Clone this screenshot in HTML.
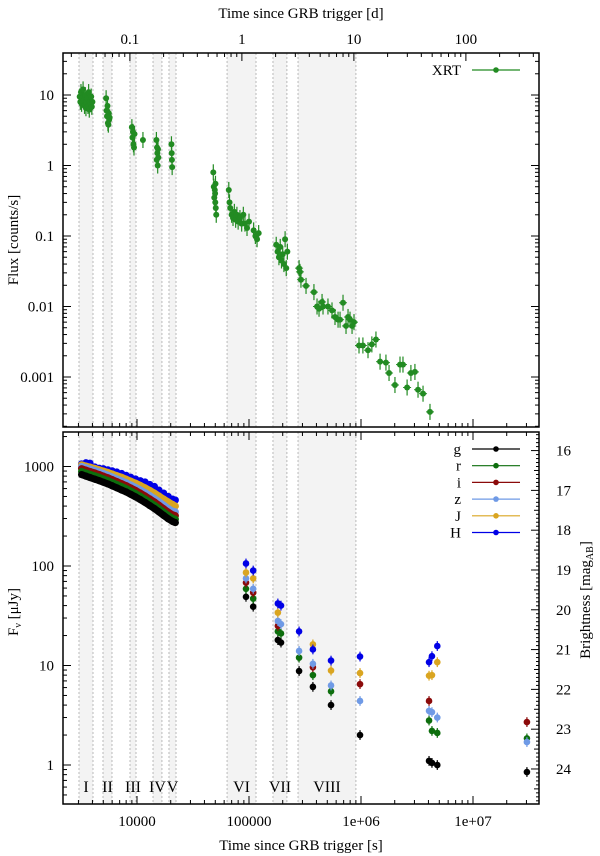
<!DOCTYPE html>
<html><head><meta charset="utf-8"><style>
html,body{margin:0;padding:0;background:#fff;}
svg{display:block;font-family:"Liberation Serif",serif;}
</style></head><body>
<svg id="c" width="600" height="856" viewBox="0 0 600 856"></svg>
<script>
// ---- data ----
const bandStart=[3034,4970,8660,13900,19300,63700,163700,274000];
const bandEnd=[4047,5980,9800,16700,22300,115500,218000,901000];
const bandLabels=["I","II","III","IV","V","VI","VII","VIII"];

const xrtT=[3080,3120,3160,3200,3250,3300,3350,3400,3450,3500,3550,3600,3650,3700,3750,3800,3850,3900,3950,4000,
5300,5350,5400,5450,5500,5550,5600,5650,5700,
9000,9100,9200,9300,9400,9500,11300,
14900,15000,15100,15200,15300,15400,15500,
20300,20400,20500,20600,
48000,48500,49000,49500,50000,50500,51000,49800,50200,
66000,67000,68000,70000,72000,74000,76000,78000,80000,83000,86000,89000,92000,96000,100000,
110000,114000,118000,122000,
175000,180000,185000,190000,195000,200000,205000,210000,215000,220000,
280000,285000,291000,323000,380000,405000,422000,449000,458000,507000,551000,586000,624000,650000,691000,735000,766000,798000,832000,866000,
960000,1040000,1155000,1250000,1360000,1480000,1670000,1780000,2010000,2230000,2370000,2580000,2790000,3030000,3230000,3580000,4130000];
const xrtF=[9.5,8,11,7.5,9,12,8.5,7,10,6.5,8,9,7,11,6.2,8,7.5,9.5,6.8,8,
9,6,5,7,4,3.8,5.5,4.5,4.8,
3.5,2.5,3,2,1.8,2.8,2.3,
2.3,1.2,1.8,1.5,1.0,1.7,1.3,
2.0,1.5,1.2,0.95,
0.8,0.5,0.35,0.45,0.3,0.25,0.2,0.4,0.55,
0.45,0.3,0.25,0.2,0.18,0.22,0.17,0.2,0.16,0.18,0.15,0.2,0.15,0.13,0.16,
0.12,0.1,0.09,0.11,
0.075,0.06,0.05,0.07,0.045,0.055,0.04,0.09,0.035,0.06,
0.035,0.031,0.024,0.0196,0.016,0.010,0.0093,0.0116,0.010,0.010,0.0088,0.0071,0.0065,0.0065,0.0113,0.0053,0.0071,0.0065,0.0053,0.006,
0.0028,0.0028,0.0024,0.0029,0.0034,0.00165,0.0016,0.00114,0.00077,0.0015,0.0015,0.00071,0.00114,0.00118,0.00066,0.00058,0.00032];

const earlyT=[3200,3500,3800,4200,4600,5000,5500,6000,6600,7300,8000,8800,9700,10700,11800,13000,14300,15700,17300,19000,20800,22000];
const gEarly=[830,800,775,745,720,695,668,640,610,580,555,525,495,465,435,405,378,350,322,298,280,273];
const rEarly=[890,860,835,805,778,750,720,690,660,628,600,568,535,502,470,438,408,378,348,322,302,295];
const iEarly=[950,918,890,860,830,800,770,738,705,672,642,608,575,540,506,472,440,408,376,348,327,320];
const zEarly=[1000,970,942,910,880,850,818,785,752,718,686,652,617,582,546,510,476,442,408,378,355,350];
const jEarly=[1040,1010,985,955,925,898,870,840,808,778,745,712,680,645,610,575,540,505,470,440,415,400];
const hEarly=[1060,1090,1080,990,960,950,925,905,880,850,815,780,750,720,700,660,630,580,540,500,470,460];

const lateT=[94000,109000,181000,193000,280000,372000,540000,980000,4050000,4300000,4800000,30300000];
const gLate=[49,39,18,17,8.8,6.1,4.0,2.0,1.1,1.05,1.0,0.85];
const rLate=[59,47,22,21,12,8.0,5.5,null,2.8,2.2,2.1,1.85];
const iLate=[68,54,25,null,null,9.6,null,6.5,4.4,null,null,2.7];
const zLate=[75,59,28,26,14,10.4,6.3,4.4,3.5,3.4,3.0,1.7];
const jLate=[86,75,34,null,null,16.3,8.9,8.4,7.9,8.0,10.8,null];
const hLate=[106,90,42,40,22,14.5,11.2,12.3,10.8,12.4,15.7,null];

const bandNames=["g","r","i","z","J","H"];
const bandColors=["#000000","#0d6e0d","#8b0a0a","#6f9ae6","#daa520","#0000e6"];

// ---- scales ----
const X0=63,X1=539,T0=53,T1=427,B0=432,B1=804;
const xs=t=>137+112*(Math.log10(t)-4);
const yT=f=>95+70.5*(1-Math.log10(f));
const yB=f=>765-99.5*Math.log10(f);
const svg=document.getElementById('c');
const NS="http://www.w3.org/2000/svg";
function mk(tag,a,parent){const e=document.createElementNS(NS,tag);for(const k in a)e.setAttribute(k,a[k]);(parent||svg).appendChild(e);return e;}
function txt(s,x,y,a,parent){const e=mk('text',Object.assign({x:x,y:y,'font-size':15,fill:'#000'},a||{}),parent);e.textContent=s;return e;}

// clip
const defs=mk('defs',{});
const cp1=mk('clipPath',{id:'cT'},defs);mk('rect',{x:X0,y:T0,width:X1-X0,height:T1-T0},cp1);
const cp2=mk('clipPath',{id:'cB'},defs);mk('rect',{x:X0,y:B0,width:X1-X0,height:B1-B0},cp2);

// bands
for(const [p0,p1] of [[T0,T1],[B0,B1]]){
  bandStart.forEach((s,i)=>{
    const r=mk('rect',{x:xs(s),y:p0,width:xs(bandEnd[i])-xs(s),height:p1-p0,fill:'#f3f3f3'});
    
    
    for(const v of [s,bandEnd[i]]){
      const l=mk('line',{x1:xs(v),x2:xs(v),y1:p0,y2:p1,stroke:'#aaa','stroke-width':0.8,'stroke-dasharray':'2,2'});
      
      
    }
  });
}
bandLabels.forEach((L,i)=>{
  const c=Math.sqrt(bandStart[i]*bandEnd[i]);
  const t=txt(L,xs(c),792,{'text-anchor':'middle','font-size':16});
  
  
});

// XRT
const gx=mk('g',{'clip-path':'url(#cT)'});


xrtT.forEach((t,i)=>{
  const f=xrtF[i],x=xs(t),y=yT(f);
  mk('line',{x1:x,x2:x,y1:yT(f*1.3),y2:yT(f/1.3),stroke:'#228b22','stroke-width':1.2},gx);
  if(t>250000) mk('line',{x1:x-4,x2:x+4,y1:y,y2:y,stroke:'#228b22','stroke-width':1},gx);
  const c=mk('circle',{cx:x,cy:y,r:3,fill:'#228b22'},gx);
  
  
});

// optical
const earlySeries=[gEarly,rEarly,iEarly,zEarly,jEarly,hEarly];
const lateSeries=[gLate,rLate,iLate,zLate,jLate,hLate];
const go=mk('g',{'clip-path':'url(#cB)'});


for(let b=5;b>=0;b--){
  const col=bandColors[b];
  const pts=earlyT.map((t,i)=>xs(t)+','+yB(earlySeries[b][i])).join(' ');
  const pl=mk('polyline',{points:pts,fill:'none',stroke:col,'stroke-width':b==5?3:7,'stroke-linejoin':'round'},go);
  
  
  earlyT.forEach((t,i)=>{
    const c=mk('circle',{cx:xs(t),cy:yB(earlySeries[b][i]),r:3.6,fill:col},go);
    
    
  });
}
for(let b=0;b<6;b++){
  const col=bandColors[b];
  lateT.forEach((t,i)=>{
    const v=lateSeries[b][i]; if(v==null) return;
    const x=xs(t),y=yB(v);
    mk('line',{x1:x,x2:x,y1:yB(v*1.12),y2:yB(v/1.12),stroke:col,'stroke-width':1.2},go);
    const c=mk('circle',{cx:x,cy:y,r:3.3,fill:col},go);
    
    
  });
}

// axes frames
for(const [p0,p1,nm] of [[T0,T1,'top-panel-frame'],[B0,B1,'bottom-panel-frame']]){
  const r=mk('rect',{x:X0,y:p0,width:X1-X0,height:p1-p0,fill:'none',stroke:'#000','stroke-width':1.5});
  
  
}
function tick(x1,y1,x2,y2){mk('line',{x1,y1,x2,y2,stroke:'#000','stroke-width':1});}
// x ticks (seconds) on all horizontal edges; top edge of top panel in days
for(let d=3;d<=8;d++)for(let k=1;k<=9;k++){
  const t=k*Math.pow(10,d),x=xs(t); if(x<X0||x>X1) continue;
  const L=k==1?8:4;
  tick(x,T1,x,T1-L);tick(x,B0,x,B0+L);tick(x,B1,x,B1-L);
}
for(let d=-2;d<=3;d++)for(let k=1;k<=9;k++){
  const t=k*Math.pow(10,d)*86400,x=xs(t); if(x<X0||x>X1) continue;
  tick(x,T0,x,T0+(k==1?8:4));
}
// top y ticks
for(let d=-4;d<=1;d++)for(let k=1;k<=9;k++){
  const f=k*Math.pow(10,d),y=yT(f); if(y<T0||y>T1) continue;
  const L=k==1?8:4; tick(X0,y,X0+L,y);tick(X1,y,X1-L,y);
}
for(let d=-1;d<=3;d++)for(let k=1;k<=9;k++){
  const f=k*Math.pow(10,d),y=yB(f); if(y<B0||y>B1) continue;
  tick(X0,y,X0+(k==1?8:4),y);
}
// right mag ticks
for(let m=15.5;m<=25;m+=0.1){
  const mm=Math.round(m*10)/10;
  const y=yB(Math.pow(10,9.56-0.4*mm)); if(y<B0||y>B1) continue;
  const major=Math.abs(mm-Math.round(mm))<1e-6;
  tick(X1,y,X1-(major?8:(Math.abs(mm*2-Math.round(mm*2))<1e-6?5:3)),y);
}
// labels
const xLab=[[10000,"10000"],[100000,"100000"],[1e6,"1e+06"],[1e7,"1e+07"]];
xLab.forEach(([t,s])=>{const e=txt(s,xs(t),826,{'text-anchor':'middle'});});
[[0.1,"0.1"],[1,"1"],[10,"10"],[100,"100"]].forEach(([d,s])=>{const e=txt(s,xs(d*86400),44,{'text-anchor':'middle'});});
[[10,"10"],[1,"1"],[0.1,"0.1"],[0.01,"0.01"],[0.001,"0.001"]].forEach(([f,s])=>{const e=txt(s,54,yT(f)+5,{'text-anchor':'end'});});
[[1000,"1000"],[100,"100"],[10,"10"],[1,"1"]].forEach(([f,s])=>{const e=txt(s,54,yB(f)+5,{'text-anchor':'end'});});
for(let m=16;m<=24;m++){const e=txt(String(m),556,yB(Math.pow(10,9.56-0.4*m))+5,{});}

let e;
e=txt("Time since GRB trigger [d]",301,18,{'text-anchor':'middle'});
e=txt("Time since GRB trigger [s]",301,850,{'text-anchor':'middle'});
e=txt("Flux [counts/s]",18,240,{'text-anchor':'middle',transform:'rotate(-90 18 240)'});
e=mk('text',{x:18,y:612,'font-size':15,'text-anchor':'middle',transform:'rotate(-90 18 612)'});e.innerHTML='F<tspan font-size="10" dy="3">ν</tspan><tspan dy="-3"> [μJy]</tspan>';
e=mk('text',{x:590,y:600,'font-size':15,'text-anchor':'middle',transform:'rotate(-90 590 600)'});e.innerHTML='Brightness [mag<tspan font-size="10" dy="3">AB</tspan><tspan dy="-3">]</tspan>';

// legends
function legend(label,col,y,nm){
  const g=mk('g',{});
  
  
  txt(label,461,y+5,{'text-anchor':'end'},g);
  mk('line',{x1:472,x2:520,y1:y,y2:y,stroke:col,'stroke-width':1.2},g);
  mk('circle',{cx:496,cy:y,r:2.8,fill:col},g);
}
legend("XRT","#228b22",70,'legend-entry-xrt');
bandNames.forEach((n,i)=>legend(n,bandColors[i],449+i*16.7,'legend-entry-'+n));
</script>
</body></html>
